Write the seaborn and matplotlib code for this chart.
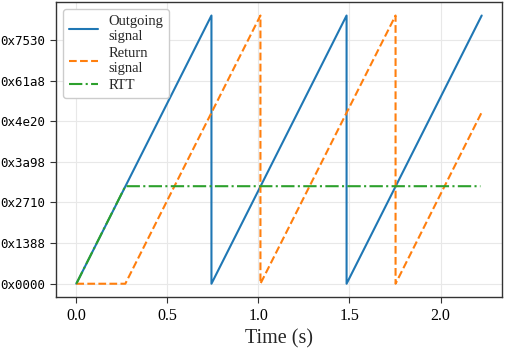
import pandas as pd
import seaborn as sns
import matplotlib.pyplot as plt

# Values
out_time = [0.0, 0.742, 0.742, 1.484, 1.484, 2.226]
out_value = [0, 33000, 0, 33000, 0, 33000]

ret_time = [0.0, 0.269, 1.011, 1.011, 1.753, 1.753, 2.224]
ret_value = [0, 0, 33000, 0, 33000, 0, 21000]

rtt_time = [0.0, 0.269, 2.219]
rtt_value = [0, 12000, 12000]

y_ticks = [0, 5000, 10000, 15000, 20000, 25000, 30000]
y_tick_labels = ['0x0000', '0x1388', '0x2710', '0x3a98', '0x4e20', '0x61a8', '0x7530']
x_ticks = [0.0, 0.5, 1.0, 1.5, 2.0]

sns.set_style("whitegrid", {
    "axes.edgecolor": "#333333",
    "grid.color": "#e8e8e8",
    "xtick.bottom": True,
    "ytick.left": True,
    "xtick.color": "#333333",
    "ytick.color": "#333333",
})
plt.rcParams['font.family'] = ['Liberation Serif', 'DejaVu Serif']

fig, ax = plt.subplots(figsize=(5.05, 3.5), dpi=100)
fig.subplots_adjust(left=0.111, right=0.994, bottom=0.151, top=0.994)

palette = sns.color_palette("tab10")
sns.lineplot(x=out_time, y=out_value, sort=False, estimator=None, ax=ax,
             color=palette[0], linewidth=1.5, label='Outgoing\nsignal')
sns.lineplot(x=ret_time, y=ret_value, sort=False, estimator=None, ax=ax,
             color=palette[1], linewidth=1.5, linestyle='--', label='Return\nsignal')
sns.lineplot(x=rtt_time, y=rtt_value, sort=False, estimator=None, ax=ax,
             color=palette[2], linewidth=1.5, linestyle='-.', label='RTT')

ax.set_yticks(y_ticks)
ax.set_yticklabels(y_tick_labels, family='DejaVu Sans Mono', fontsize=9, color='black')
ax.set_xticks(x_ticks)
ax.set_xticklabels([f'{t:.1f}' for t in x_ticks], fontsize=11.5, color='black')
ax.tick_params(length=4, width=0.8)
ax.set_xlabel('Time (s)', fontsize=14.5)
ax.set_ylabel('')
for s in ax.spines.values():
    s.set_linewidth(1.0)

leg = ax.legend(loc='upper left', fontsize=10.5, frameon=True, framealpha=1,
                edgecolor='#cccccc', fancybox=True, labelspacing=0.25,
                handletextpad=0.7, borderpad=0.4)

plt.savefig('out.png', dpi=100)
